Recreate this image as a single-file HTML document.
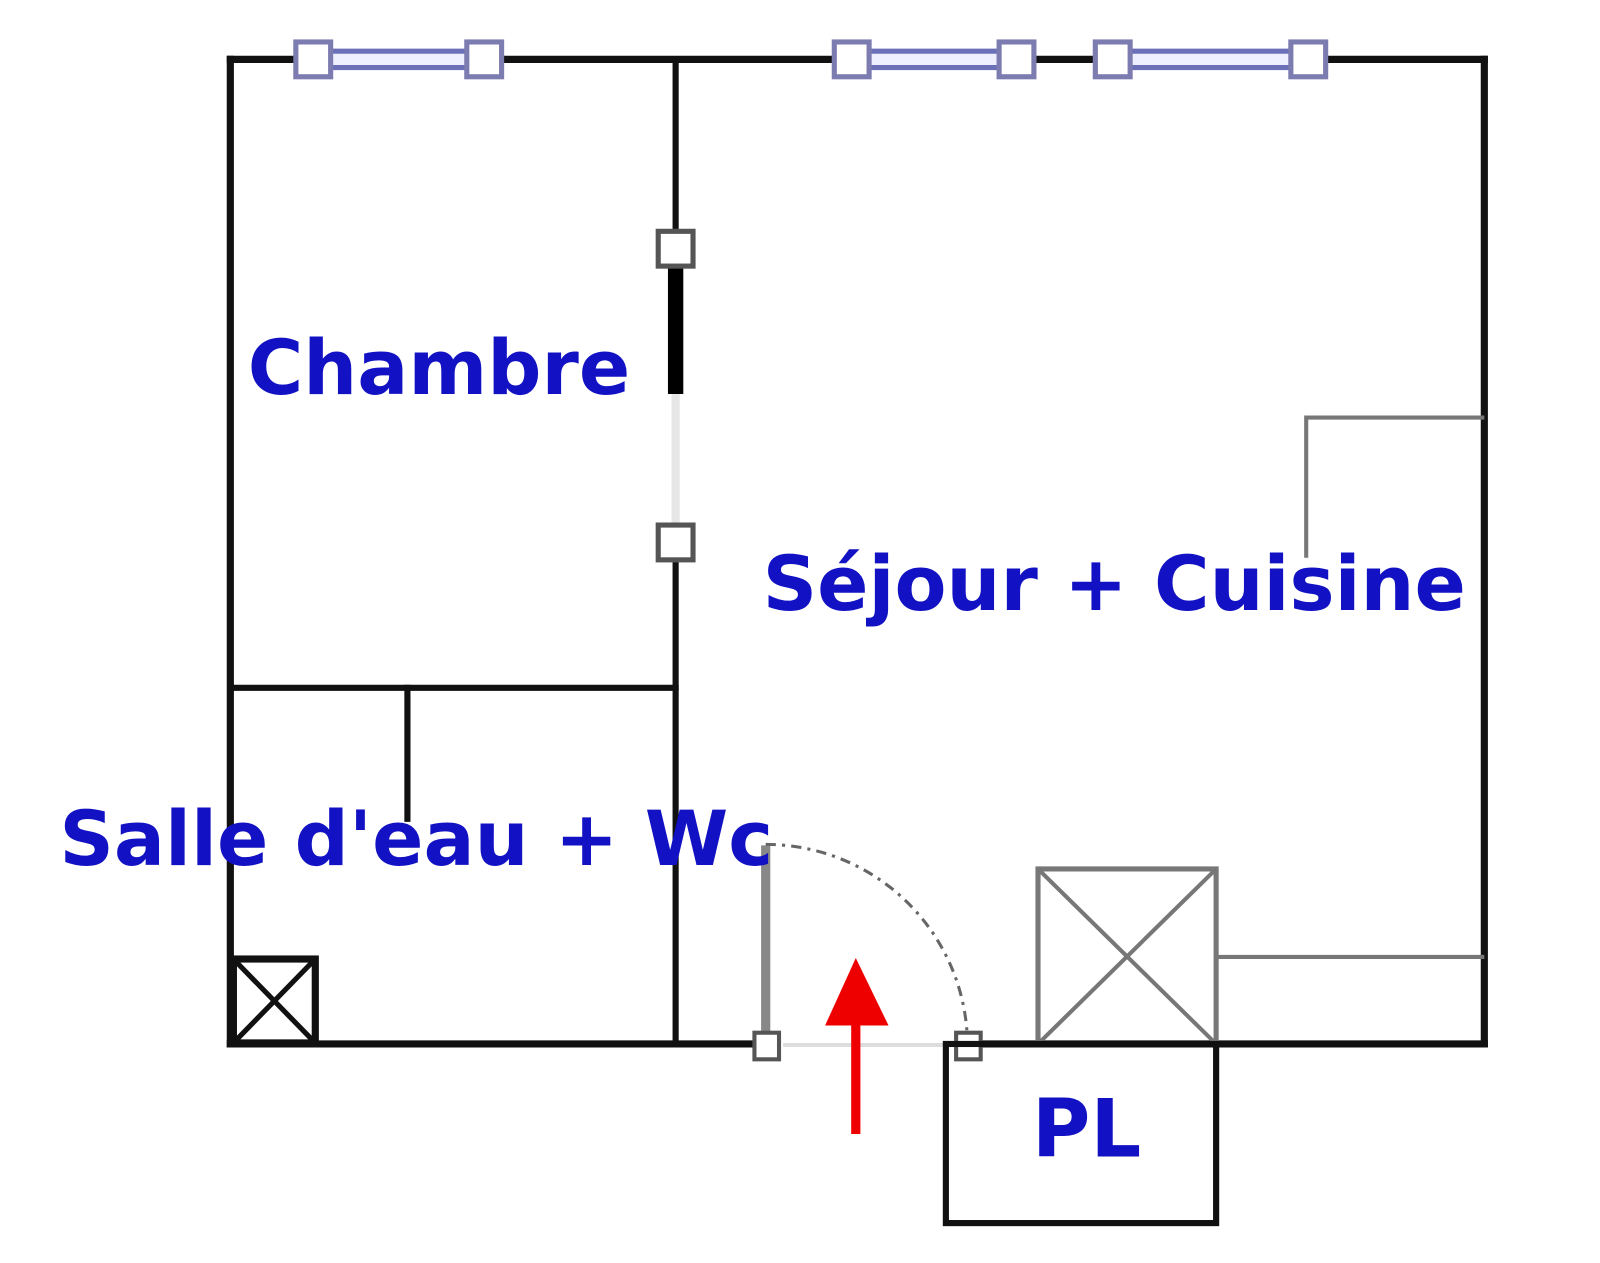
<!DOCTYPE html>
<html><head><style>html,body{margin:0;padding:0;background:#fff}svg{display:block}
text{font-family:"DejaVu Sans","Liberation Sans",sans-serif;font-weight:bold;fill:#1212c4}</style></head>
<body>
<svg width="1600" height="1263" viewBox="0 0 1563 1234" preserveAspectRatio="none" xmlns="http://www.w3.org/2000/svg">
<rect width="1563" height="1234" fill="#fff"/>
<g stroke="#111" stroke-width="7" fill="none" stroke-linecap="square">
<line x1="225" y1="58" x2="1450" y2="58"/>
<line x1="225" y1="58" x2="225" y2="1020"/>
<line x1="1450" y1="58" x2="1450" y2="1020"/>
<line x1="225" y1="1020" x2="748" y2="1020"/>
<line x1="945" y1="1020" x2="1450" y2="1020"/>
<line x1="660" y1="58" x2="660" y2="1020" stroke-width="6"/>
<line x1="225" y1="672" x2="660" y2="672" stroke-width="6"/>
<line x1="398" y1="672" x2="398" y2="800" stroke-width="6"/>
</g>
<line x1="660" y1="385" x2="660" y2="515" stroke="#e6e6e6" stroke-width="8"/>
<line x1="660" y1="258" x2="660" y2="385" stroke="#000" stroke-width="15"/>
<g>
<rect x="306" y="50" width="167" height="16" fill="#eef0ff" stroke="#6b70b8" stroke-width="5"/>
<rect x="832" y="50" width="161" height="16" fill="#eef0ff" stroke="#6b70b8" stroke-width="5"/>
<rect x="1087" y="50" width="191" height="16" fill="#eef0ff" stroke="#6b70b8" stroke-width="5"/>
</g>
<g fill="#fff" stroke="#7c7cb0" stroke-width="5">
<rect x="289" y="41" width="34" height="34"/><rect x="456" y="41" width="34" height="34"/>
<rect x="815" y="41" width="34" height="34"/><rect x="976" y="41" width="34" height="34"/>
<rect x="1070" y="41" width="34" height="34"/><rect x="1261" y="41" width="34" height="34"/>
</g>
<g fill="#fff" stroke="#555" stroke-width="5">
<rect x="643" y="226" width="34" height="34"/><rect x="643" y="513" width="34" height="34"/>
</g>
<line x1="765" y1="1021" x2="930" y2="1021" stroke="#ddd" stroke-width="4"/>
<line x1="748" y1="826" x2="748" y2="1010" stroke="#888" stroke-width="9"/>
<path d="M748,825 A197,197 0 0 1 945,1015" fill="none" stroke="#666" stroke-width="3" stroke-dasharray="10,6,3,6"/>
<g fill="#fff" stroke="#555" stroke-width="4">
<rect x="737" y="1009" width="24" height="26"/><rect x="934" y="1009" width="24" height="26"/>
</g>
<g stroke="#111" stroke-width="7" fill="none">
<rect x="228" y="937" width="80" height="82"/>
<line x1="228" y1="937" x2="308" y2="1019" stroke-width="5"/><line x1="308" y1="937" x2="228" y2="1019" stroke-width="5"/>
</g>
<g stroke="#777" stroke-width="4" fill="none">
<rect x="1014" y="849" width="174" height="171" stroke-width="5"/>
<line x1="1014" y1="849" x2="1188" y2="1020"/><line x1="1188" y1="849" x2="1014" y2="1020"/>
<polyline points="1450,408 1276,408 1276,545"/>
<line x1="1188" y1="935" x2="1450" y2="935"/>
</g>
<rect x="924" y="1020" width="264" height="175" fill="none" stroke="#111" stroke-width="6"/>
<line x1="836" y1="1108" x2="836" y2="995" stroke="#e00" stroke-width="9"/>
<polygon points="806,1002 868,1002 836,936" fill="#e00"/>
<text x="242" y="385" font-size="74">Chambre</text>
<text x="745" y="596" font-size="74">Séjour + Cuisine</text>
<text x="58" y="845" font-size="74">Salle d'eau + Wc</text>
<text x="1008" y="1130" font-size="78">PL</text>
</svg>
</body></html>
